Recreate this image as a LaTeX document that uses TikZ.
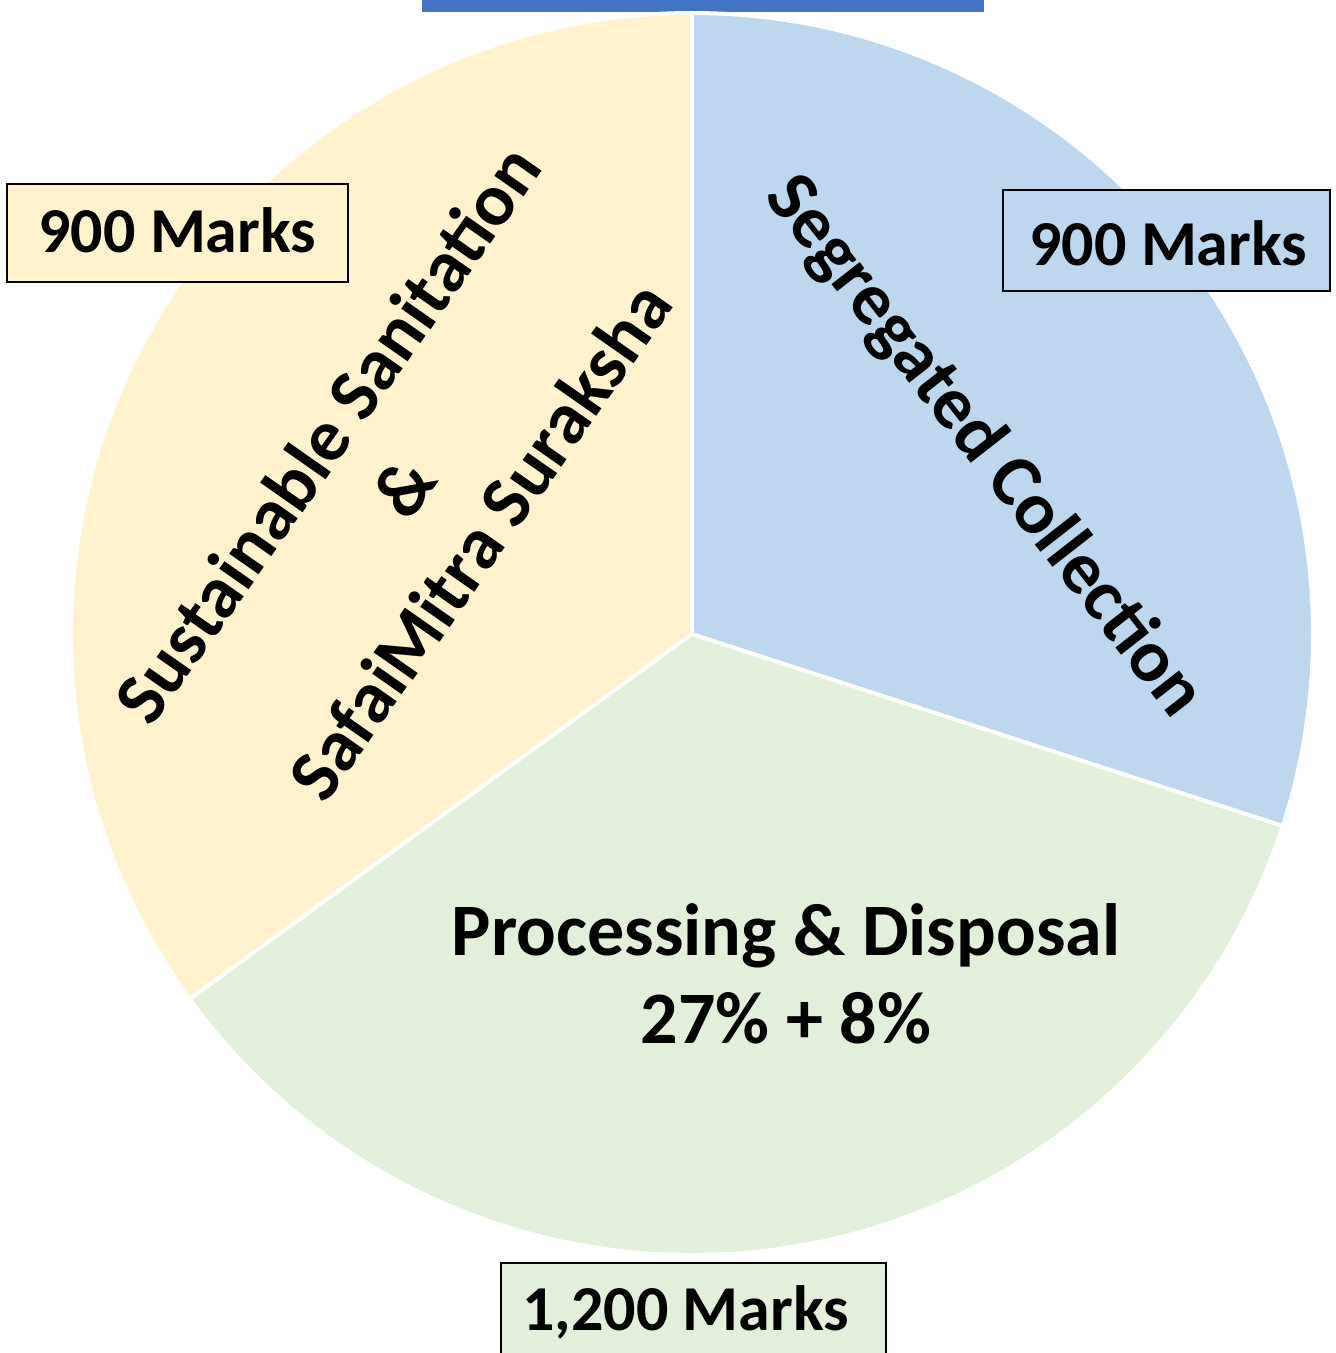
\documentclass[tikz,border=0pt]{standalone}
\usepackage{fontspec}
\setmainfont{Carlito}
\definecolor{segblue}{HTML}{BDD7EE}
\definecolor{procgreen}{HTML}{E2EFDA}
\definecolor{sanyellow}{HTML}{FFF2CC}
\definecolor{barblue}{HTML}{4472C4}
\tikzset{
  slice/.style={draw=white, line width=4pt, line join=miter},
  markbox/.style={draw=black, line width=2pt, inner sep=0pt},
  marktext/.style={font=\fontsize{64}{77}\selectfont\bfseries, inner sep=0pt},
  pietext/.style={font=\fontsize{74}{93}\selectfont\bfseries, inner sep=0pt, align=center}
}
\begin{document}
\begin{tikzpicture}[x=1pt,y=1pt]
  \useasboundingbox (0,0) rectangle (1336,-1353);
  \clip (0,0) rectangle (1336,-1353);

  % title bar peeking in at the top
  \fill[barblue] (422,0) rectangle (984,-12);

  % pie slices: 30% / 35% / 35%
  \coordinate (C) at (692,-634);
  \fill[segblue]    (C) -- ++(90:621)   arc[start angle=90,   end angle=-18,  radius=621] -- cycle;
  \fill[procgreen]  (C) -- ++(-18:621)  arc[start angle=-18,  end angle=-144, radius=621] -- cycle;
  \fill[sanyellow]  (C) -- ++(-144:621) arc[start angle=-144, end angle=-270, radius=621] -- cycle;
  \draw[slice] (C) -- ++(90:621);
  \draw[slice] (C) -- ++(-18:621);
  \draw[slice] (C) -- ++(-144:621);
  \draw[slice] (C) circle[radius=621];

  % slice labels
  \node[pietext, rotate=-52] (seg) at (984,-447) {Segregated Collection};
  \node[pietext, rotate=55] (san) at (403,-487)
    {Sustainable Sanitation\\\&\\SafaiMitra Suraksha};
  \node[pietext, anchor=base] (proc1) at (786,-955) {Processing \& Disposal};
  \node[pietext, anchor=base] (proc2) at (786,-1043) {27\% + 8\%};

  % marks boxes
  \node[markbox, fill=sanyellow, minimum width=341, minimum height=98] (boxL) at (177.5,-233) {};
  \node[marktext, anchor=base west] (markL) at (38,-252) {900 Marks};

  \node[markbox, fill=segblue, minimum width=327, minimum height=101] (boxR) at (1166.5,-240.5) {};
  \node[marktext, anchor=base west] (markR) at (1029,-265) {900 Marks};

  \node[markbox, fill=procgreen, minimum width=385, minimum height=140] (boxB) at (693.5,-1333) {};
  \node[marktext, anchor=base west] (markB) at (522,-1330) {1,200 Marks};
\end{tikzpicture}
\end{document}
